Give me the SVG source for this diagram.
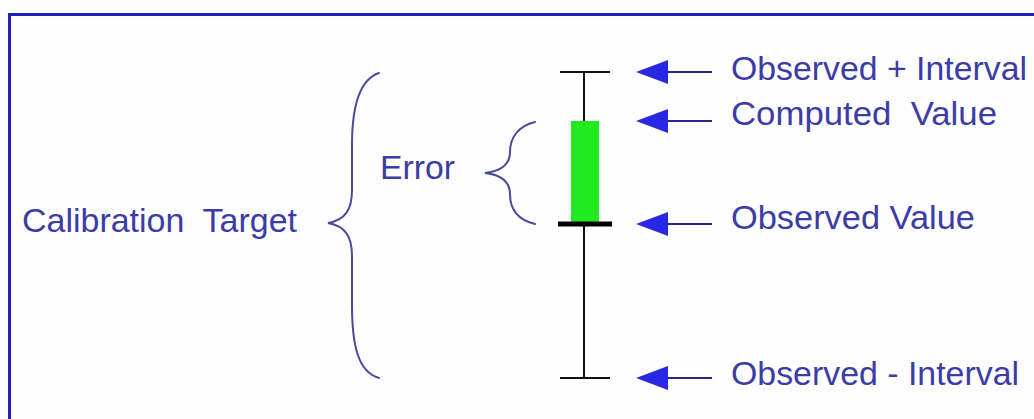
<svg xmlns="http://www.w3.org/2000/svg" width="1034" height="419" viewBox="0 0 1034 419">
<style>
  .lbl { font-family: "Liberation Sans", Arial, sans-serif; font-size: 34px; fill: #3c3ca6; white-space: pre; }
  .brace { fill: none; stroke: #4a4a9c; stroke-width: 2; stroke-linecap: round; }
  .bar { stroke: #111; stroke-width: 2; fill: none; }
  .shaft { stroke: #25258a; stroke-width: 2; }
  .head { fill: #2828e4; }
</style>
<defs>
  <g id="arrow">
    <line class="shaft" x1="664" y1="0" x2="712" y2="0"/>
    <polygon class="head" points="636,0 668,-12 668,12"/>
  </g>
</defs>
<rect x="0" y="0" width="1034" height="419" fill="#fefefe"/>
<rect id="frame" x="9.5" y="14.5" width="1040" height="420" fill="none" stroke="#1f1fc8" stroke-width="3"/>

<g id="calibration-target">
  <path class="brace" d="M379,73 C358,80 352,110 352,145 L352,190 C352,210 345,220 328,223 C345,226 352,236 352,256 L352,305 C352,345 358,372 379,378"/>
  <text class="lbl" x="22" y="232" textLength="275" lengthAdjust="spacingAndGlyphs">Calibration  Target</text>
</g>

<g id="error">
  <path class="brace" d="M535,122 C518,126 510,138 510,152 C510,164 502,171 485,173 C502,175 510,182 510,194 C510,210 518,220 535,224"/>
  <text class="lbl" x="380" y="179" textLength="75" lengthAdjust="spacingAndGlyphs">Error</text>
</g>

<g id="error-bar">
  <line class="bar" x1="584" y1="72" x2="584" y2="378"/>
  <line class="bar" x1="560" y1="72" x2="610" y2="72"/>
  <line class="bar" x1="560" y1="378" x2="610" y2="378"/>
  <rect x="571" y="121" width="28" height="101" fill="#22ea22"/>
  <line x1="558" y1="224" x2="612" y2="224" stroke="#000" stroke-width="5"/>
</g>

<g id="connectors">
  <use href="#arrow" y="72"/>
  <use href="#arrow" y="121"/>
  <use href="#arrow" y="224"/>
  <use href="#arrow" y="378"/>
</g>

<g id="labels">
  <text id="obs-plus" class="lbl" x="731" y="80" textLength="296" lengthAdjust="spacingAndGlyphs">Observed + Interval</text>
  <text id="computed" class="lbl" x="731" y="125" textLength="266" lengthAdjust="spacingAndGlyphs">Computed  Value</text>
  <text id="observed" class="lbl" x="731" y="229" textLength="244" lengthAdjust="spacingAndGlyphs">Observed Value</text>
  <text id="obs-minus" class="lbl" x="731" y="385" textLength="288" lengthAdjust="spacingAndGlyphs">Observed - Interval</text>
</g>
</svg>
